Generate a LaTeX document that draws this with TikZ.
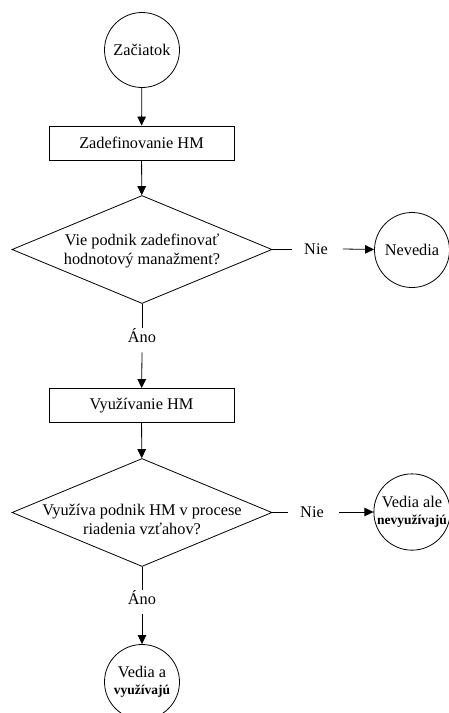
\documentclass[tikz,border=0pt]{standalone}
\usepackage{fontspec}
\setmainfont{Liberation Serif}
\usetikzlibrary{shapes.geometric, arrows.meta}

\tikzset{
    krok/.style={draw, line width=0.8pt, rectangle, minimum width=185pt, minimum height=34pt, inner sep=0pt, font=\fontsize{16.3}{19}\selectfont},
    koniec/.style={draw, line width=0.8pt, circle, minimum size=75pt, inner sep=0pt, align=center, font=\fontsize{16.3}{19}\selectfont},
    otazka/.style={draw, line width=0.8pt, diamond, aspect=2.4, minimum width=260pt, minimum height=108pt, inner sep=0pt, align=center, font=\fontsize{16.3}{18.5}\selectfont},
    popis/.style={inner sep=1pt, font=\fontsize{16.3}{19}\selectfont},
    sipka/.style={line width=0.8pt, -{Triangle[length=9pt, width=8.5pt]}},
    ciara/.style={line width=0.8pt}
}

\begin{document}
\begin{tikzpicture}[x=1pt, y=-1pt]
\useasboundingbox (0,0) rectangle (448,713);
% Hlavna vetva
\begin{scope}
    \node[koniec] (zaciatok) at (142,50) {Začiatok};
    \node[krok] (zadef) at (141.5,143) {Zadefinovanie HM};
    \node[otazka] (vie) at (142,249.5) {};
    \node[align=center, font=\fontsize{16.3}{18.5}\selectfont] (vietext) at (142,251) {Vie podnik zadefinovať\\hodnotový manažment?};
    \node[popis] (ano1) at (142,336) {Áno};
    \node[krok] (vyuz) at (141.5,405.5) {Využívanie HM};
    \node[otazka] (vyuziva) at (142,512.5) {};
    \node[align=center, font=\fontsize{16.3}{18.5}\selectfont] (vyuzivatext) at (142,519.5) {Využíva podnik HM v procese\\riadenia vzťahov?};
    \node[popis] (ano2) at (142,598) {Áno};
    \node[koniec] (vediaa) at (142,682) {Vedia a\\[-2pt]{\fontsize{13.5}{15}\selectfont\bfseries využívajú}};

    \draw[sipka] (zaciatok) -- (zadef);
    \draw[sipka] (zadef) -- (vie);
    \draw[ciara] (vie.south) -- (ano1);
    \draw[sipka] (ano1.south) ++(0,8) coordinate (a1) (a1) -- (vyuz);
    \draw[sipka] (vyuz) -- (vyuziva);
    \draw[ciara] (vyuziva.south) -- (ano2);
    \draw[sipka] (ano2.south) ++(0,8) coordinate (a2) (a2) -- (vediaa);
\end{scope}

% Vetvy Nie
\begin{scope}
    \node[popis] (nie1) at (316,249) {Nie};
    \node[koniec] (nevedia) at (412,250) {Nevedia};
    \draw[ciara] (vie.east) -- ++(20,0) coordinate (n1);
    \draw[sipka] (nie1.east) ++(14,0) coordinate (s1) (s1) -- (nevedia);

    \node[popis] (nie2) at (312,512) {Nie};
    \node[koniec] (vediaale) at (412,512) {Vedia ale\\[-2pt]{\fontsize{13.5}{15}\selectfont\bfseries nevyužívajú}};
    \draw[ciara] (vyuziva.east) -- ++(16,0) coordinate (n2);
    \draw[sipka] (nie2.east) ++(14,0) coordinate (s2) (s2) -- (vediaale);
\end{scope}

\end{tikzpicture}
\end{document}
